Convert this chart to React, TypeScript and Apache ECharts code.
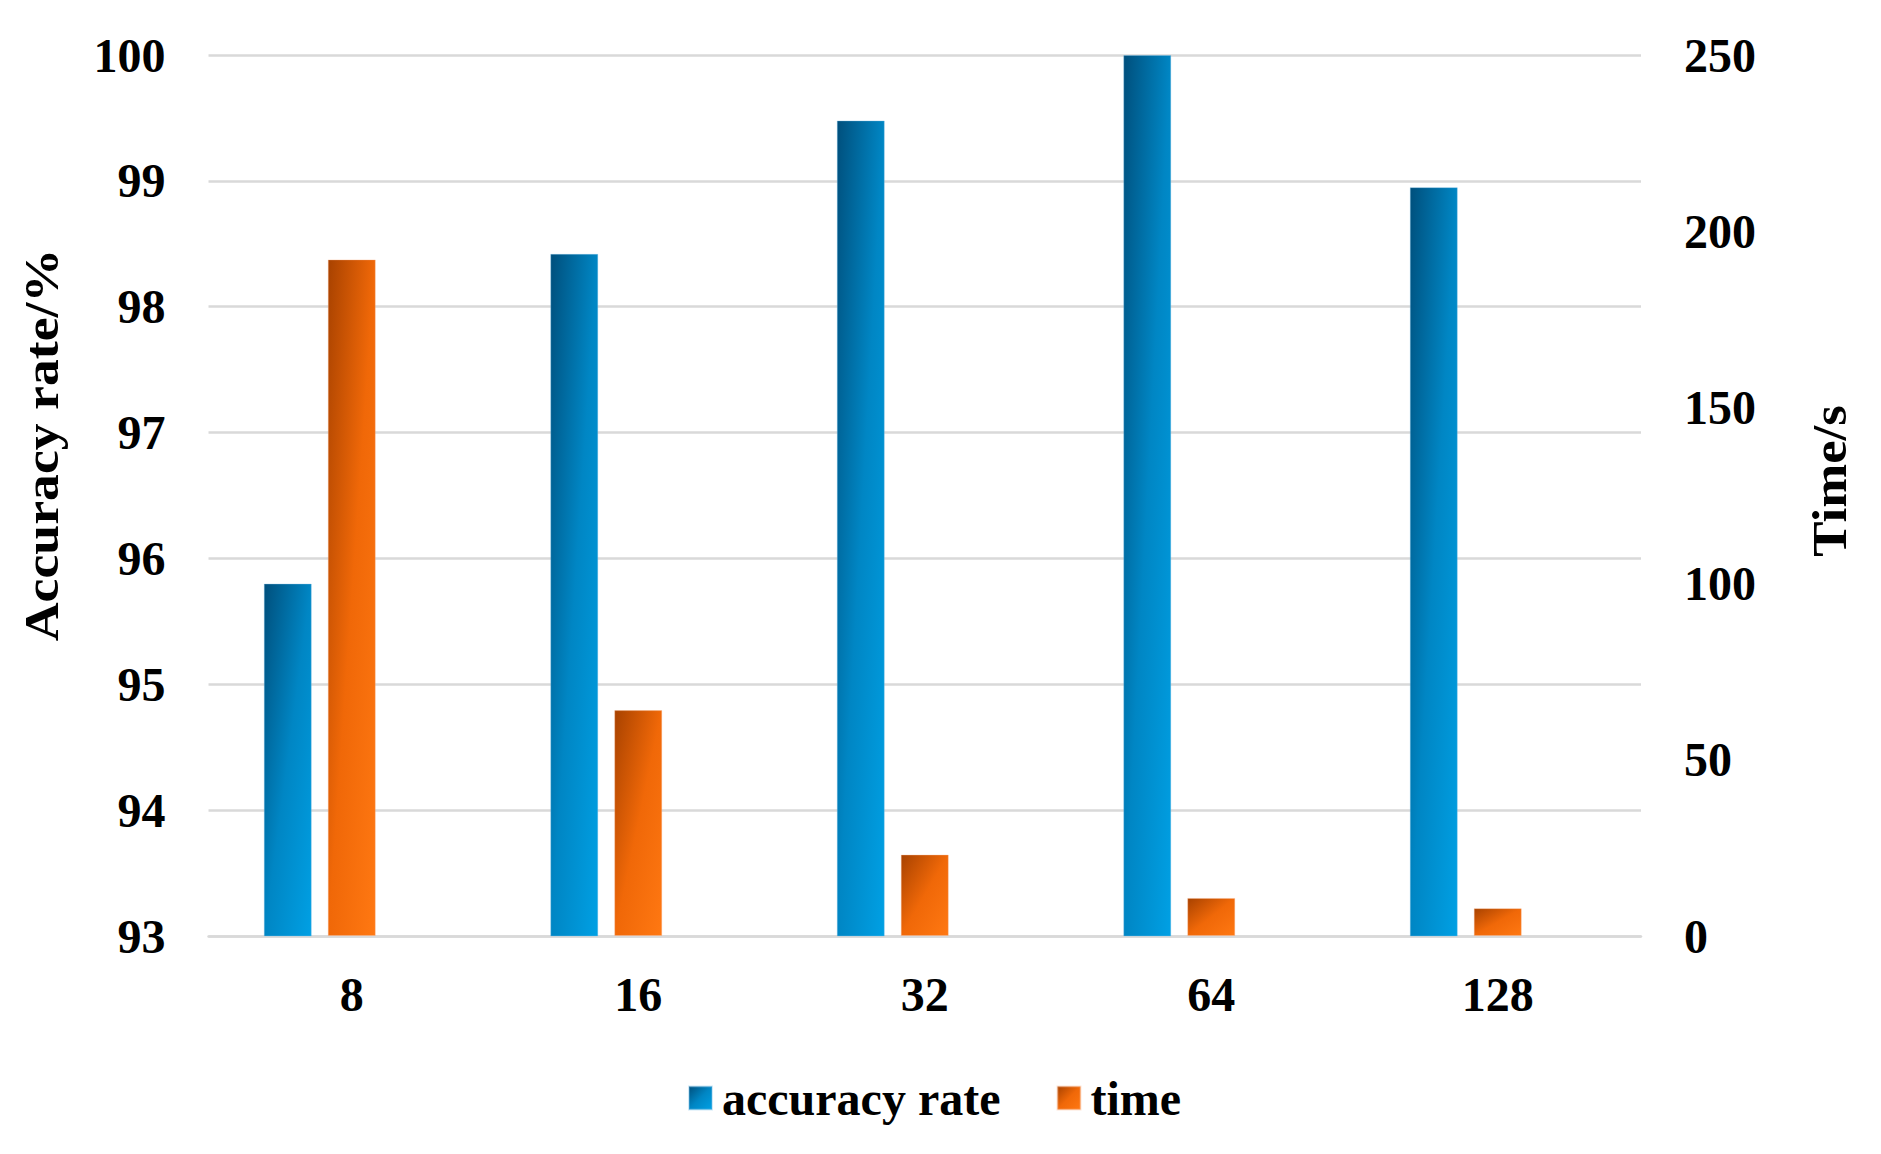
import React, { useEffect, useRef } from "react";
import * as echarts from "echarts";

const categories = ["8", "16", "32", "64", "128"];
const accuracyRate = [95.8, 98.42, 99.48, 100.0, 98.95];
const timeSeconds = [192.0, 64.1, 23.1, 10.8, 7.9];
const emptySlot = [null, null, null, null, null];
const leftTicks = { min: 93, max: 100, interval: 1 };
const rightTicks = { min: 0, max: 250, interval: 50 };
const legendNames = ["accuracy rate", "time"];
const leftTitle = "Accuracy rate/%";
const rightTitle = "Time/s";

const FONT = "'Times New Roman', 'Liberation Serif', 'DejaVu Serif', serif";

export default function App() {
  const ref = useRef<HTMLDivElement>(null);
  useEffect(() => {
    document.body.style.margin = "0";
    document.body.style.overflow = "hidden";
    if (!ref.current) return;
    const chart = echarts.init(ref.current, undefined, { renderer: "svg" });
    const blue = new echarts.graphic.LinearGradient(0, 0, 1, 1, [
      { offset: 0, color: "#004f7c" },
      { offset: 0.5, color: "#0086c4" },
      { offset: 1, color: "#00a0e4" },
    ]);
    const orange = new echarts.graphic.LinearGradient(0, 0, 1, 1, [
      { offset: 0, color: "#a84200" },
      { offset: 0.5, color: "#f06808" },
      { offset: 1, color: "#ff7812" },
    ]);
    const labelStyle = {
      fontFamily: FONT,
      fontWeight: "bold" as const,
      fontSize: 48,
      color: "#000",
    };
    chart.setOption({
      animation: false,
      backgroundColor: "#fff",
      grid: { left: 208.5, right: 240, top: 55, bottom: 218, containLabel: false },
      legend: {
        data: legendNames,
        left: 683,
        top: 1069,
        icon: "rect",
        itemWidth: 23,
        itemHeight: 23,
        itemGap: 56,
        textStyle: { ...labelStyle, padding: [0, 0, 0, 5] },
      },
      xAxis: {
        type: "category",
        data: categories,
        axisLine: { show: true, lineStyle: { color: "#d9d9d9", width: 2.5 } },
        axisTick: { show: false },
        axisLabel: { ...labelStyle, margin: 34 },
      },
      yAxis: [
        {
          type: "value",
          min: leftTicks.min,
          max: leftTicks.max,
          interval: leftTicks.interval,
          axisLine: { show: false },
          axisTick: { show: false },
          axisLabel: { ...labelStyle, margin: 43 },
          splitLine: { show: true, lineStyle: { color: "#d9d9d9", width: 2.5 } },
        },
        {
          type: "value",
          min: rightTicks.min,
          max: rightTicks.max,
          interval: rightTicks.interval,
          position: "right",
          axisLine: { show: false },
          axisTick: { show: false },
          axisLabel: { ...labelStyle, margin: 43 },
          splitLine: { show: false },
        },
      ],
      series: [
        {
          name: legendNames[0],
          type: "bar",
          yAxisIndex: 0,
          data: accuracyRate,
          barWidth: 48,
          barGap: "33.3%",
          itemStyle: { color: blue, borderColor: "rgba(120,190,230,0.35)", borderWidth: 1 },
        },
        {
          name: legendNames[1],
          type: "bar",
          yAxisIndex: 1,
          data: timeSeconds,
          barWidth: 48,
          barGap: "33.3%",
          itemStyle: { color: orange, borderColor: "rgba(250,180,140,0.35)", borderWidth: 1 },
        },
        {
          name: "",
          type: "bar",
          yAxisIndex: 1,
          data: emptySlot,
          barWidth: 48,
          barGap: "33.3%",
          silent: true,
        },
      ],
      graphic: [
        {
          type: "text",
          x: 42,
          y: 445,
          rotation: Math.PI / 2,
          scaleX: 1.12,
          style: {
            text: leftTitle,
            font: `bold 48px ${FONT}`,
            fill: "#000",
            align: "center",
            verticalAlign: "middle",
          },
        },
        {
          type: "text",
          x: 1830,
          y: 481,
          rotation: Math.PI / 2,
          scaleX: 1.1,
          style: {
            text: rightTitle,
            font: `bold 48px ${FONT}`,
            fill: "#000",
            align: "center",
            verticalAlign: "middle",
          },
        },
      ],
    });
    return () => chart.dispose();
  }, []);
  return <div ref={ref} style={{ width: 1881, height: 1154 }} />;
}
